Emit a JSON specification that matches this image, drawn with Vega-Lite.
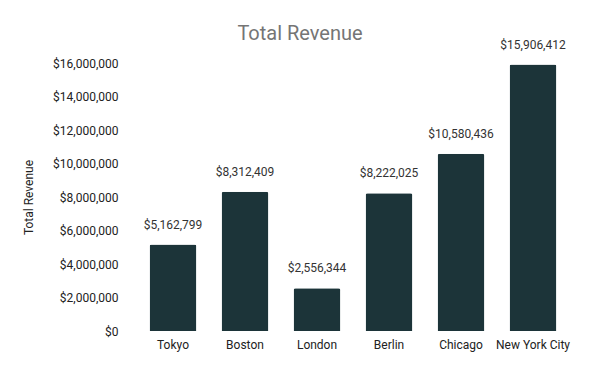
{
  "$schema": "https://vega.github.io/schema/vega-lite/v6.json",
  "width": 450,
  "height": 268,
  "autosize": {"type": "none"},
  "padding": {"left": 128, "top": 63, "right": 22, "bottom": 40},
  "background": "#ffffff",
  "title": {"text": "Total Revenue", "font": "Roboto", "fontSize": 20, "fontWeight": "normal", "color": "#757575", "anchor": "middle", "dx": -53, "dy": 27, "offset": 22},
  "config": {"view": {"stroke": null}, "font": "Roboto"},
  "data": {"values": [
    {"city": "Tokyo", "revenue": 5162799},
    {"city": "Boston", "revenue": 8312409},
    {"city": "London", "revenue": 2556344},
    {"city": "Berlin", "revenue": 8222025},
    {"city": "Chicago", "revenue": 10580436},
    {"city": "New York City", "revenue": 15906412}
  ]},
  "encoding": {
    "x": {"field": "city", "type": "nominal", "sort": null,
      "scale": {"paddingInner": 0.35, "paddingOuter": 0.3},
      "axis": {"title": null, "labelAngle": 0, "domain": false, "ticks": false, "labelPadding": 8, "labelFontSize": 12, "labelColor": "#222222", "labelFont": "Roboto"}},
    "y": {"field": "revenue", "type": "quantitative",
      "scale": {"domain": [0, 16000000]},
      "axis": {"title": "Total Revenue", "format": "$,.0f", "values": [0,2000000,4000000,6000000,8000000,10000000,12000000,14000000,16000000], "labelOverlap": false, "grid": false, "domain": false, "ticks": false, "labelPadding": 10, "labelFontSize": 12, "labelColor": "#222222", "labelFont": "Roboto", "titleFont": "Roboto", "titleFontSize": 12, "titleFontWeight": "normal", "titleColor": "#222222", "titleX": -100, "titleY": 134, "titleAngle": -90, "titleBaseline": "middle", "titleAlign": "center"}}
  },
  "layer": [
    {"mark": {"type": "bar", "color": "#1c3439", "cornerRadiusTopLeft": 2, "cornerRadiusTopRight": 2}},
    {"mark": {"type": "text", "baseline": "bottom", "dy": -13, "fontSize": 12, "color": "#333333", "font": "Roboto"},
     "encoding": {"text": {"field": "revenue", "type": "quantitative", "format": "$,.0f"}}}
  ]
}
